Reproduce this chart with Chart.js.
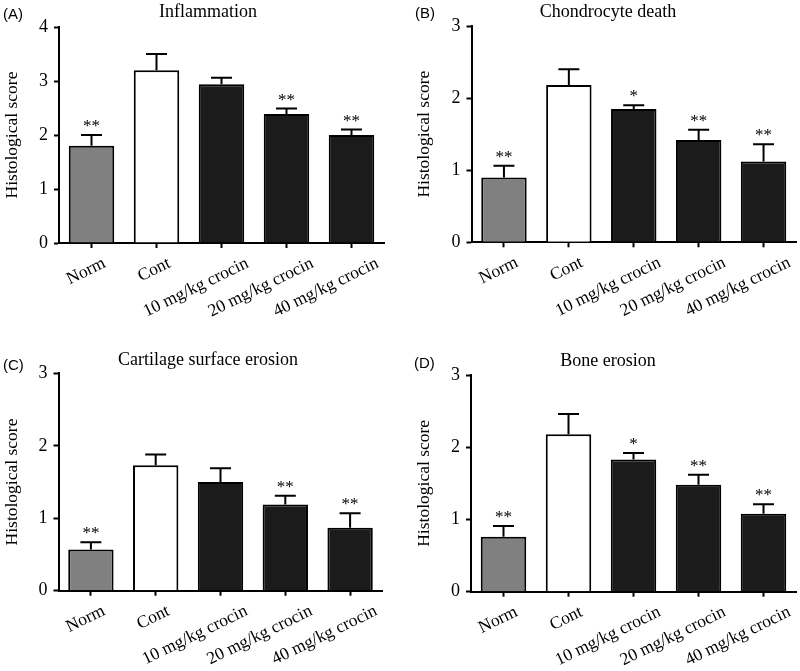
<!DOCTYPE html>
<html><head><meta charset="utf-8">
<script src="https://cdn.jsdelivr.net/npm/chart.js@4.4.1/dist/chart.umd.min.js"></script>
<style>
html,body{margin:0;padding:0;background:#fff;}
#wrap{position:relative;width:800px;height:671px;overflow:hidden;background:#fff;}
canvas{position:absolute;}
</style></head><body>
<div id="wrap">
<canvas id="cA" width="400" height="330" style="left:0;top:0"></canvas>
<canvas id="cB" width="400" height="330" style="left:400px;top:0"></canvas>
<canvas id="cC" width="400" height="341" style="left:0;top:330px"></canvas>
<canvas id="cD" width="400" height="341" style="left:400px;top:330px"></canvas>
</div>
<script>
// ---- data ----
const categories = ['Norm', 'Cont', '10 mg/kg crocin', '20 mg/kg crocin', '40 mg/kg crocin'];
const panelTitles = ['Inflammation', 'Chondrocyte death', 'Cartilage surface erosion', 'Bone erosion'];
const panelLetters = ['(A)', '(B)', '(C)', '(D)'];
const yAxisTitle = 'Histological score';
const yMaxValues = [4, 3, 3, 3];

const inflammationMean = [1.80, 3.20, 2.94, 2.39, 2.00];
const inflammationErr  = [0.20, 0.30, 0.12, 0.10, 0.10];
const inflammationSig  = ['**', '', '', '**', '**'];

const chondrocyteMean = [0.90, 2.18, 1.85, 1.42, 1.12];
const chondrocyteErr  = [0.16, 0.22, 0.05, 0.14, 0.24];
const chondrocyteSig  = ['**', '', '*', '**', '**'];

const cartilageMean = [0.57, 1.73, 1.50, 1.19, 0.87];
const cartilageErr  = [0.10, 0.15, 0.19, 0.12, 0.20];
const cartilageSig  = ['**', '', '', '**', '**'];

const boneMean = [0.76, 2.18, 1.83, 1.48, 1.08];
const boneErr  = [0.15, 0.28, 0.09, 0.14, 0.13];
const boneSig  = ['**', '', '*', '**', '**'];

// ---- styles / layout ----
const barColors = ['#808080', '#ffffff', '#1b1b1b', '#1b1b1b', '#1b1b1b'];
const SERIF = '"Liberation Serif", "Times New Roman", serif';
const SANS = '"Liberation Sans", Arial, sans-serif';
Chart.defaults.color = '#000';
const isShortLabel = (s) => s.length <= 6;

const panels = [
  {id:'cA', mean:inflammationMean, err:inflammationErr, sig:inflammationSig,
   left:59, right:384, top:27, bottom:243, padL:0, titleY:17, letterX:3, letterY:19},
  {id:'cB', mean:chondrocyteMean, err:chondrocyteErr, sig:chondrocyteSig,
   left:71.5, right:396, top:26, bottom:242.3, padL:12, titleY:17, letterX:15, letterY:18},
  {id:'cC', mean:cartilageMean, err:cartilageErr, sig:cartilageSig,
   left:58.5, right:382.5, top:43.3, bottom:260.7, padL:0, titleY:34.5, letterX:3, letterY:40},
  {id:'cD', mean:boneMean, err:boneErr, sig:boneSig,
   left:71, right:396, top:45, bottom:261.7, padL:12, titleY:35.5, letterX:14, letterY:38}
];

const errorBarPlugin = {
  id: 'errorBars',
  afterDatasetsDraw(chart, args, opts) {
    const ctx = chart.ctx;
    const meta = chart.getDatasetMeta(0);
    const ys = chart.scales.y;
    ctx.save();
    ctx.strokeStyle = '#000';
    ctx.lineWidth = 2;
    ctx.fillStyle = '#000';
    ctx.font = '17px ' + SERIF;
    ctx.textAlign = 'center';
    ctx.textBaseline = 'alphabetic';
    meta.data.forEach((bar, i) => {
      const top = ys.getPixelForValue(opts.mean[i]);
      const yE = ys.getPixelForValue(opts.mean[i] + opts.err[i]);
      ctx.beginPath();
      ctx.moveTo(bar.x, top);
      ctx.lineTo(bar.x, yE);
      ctx.moveTo(bar.x - 10.5, yE);
      ctx.lineTo(bar.x + 10.5, yE);
      ctx.stroke();
      if (opts.sig[i]) ctx.fillText(opts.sig[i], bar.x, yE - 4);
    });
    ctx.restore();
  }
};

const panelTextPlugin = {
  id: 'panelText',
  afterDraw(chart, args, opts) {
    const ctx = chart.ctx;
    ctx.save();
    ctx.fillStyle = '#000';
    ctx.textBaseline = 'alphabetic';
    ctx.font = '18px ' + SERIF;
    ctx.textAlign = 'center';
    ctx.fillText(opts.title, 208, opts.titleY);
    ctx.font = '15px ' + SANS;
    ctx.textAlign = 'left';
    ctx.fillText(opts.letter, opts.letterX, opts.letterY);
    ctx.restore();
  }
};

const xTickFont = { family: SERIF, size: 17.5 };

panels.forEach((p, k) => {
  const canvas = document.getElementById(p.id);
  const W = canvas.width, H = canvas.height;
  new Chart(canvas, {
    type: 'bar',
    data: {
      labels: categories,
      datasets: [{
        data: p.mean,
        backgroundColor: barColors,
        borderColor: '#000',
        borderWidth: 2,
        barPercentage: 0.7,
        categoryPercentage: 1.0
      }]
    },
    options: {
      responsive: false,
      animation: false,
      events: [],
      layout: { padding: { left: p.padL, right: W - p.right, top: p.top, bottom: 0 } },
      plugins: {
        legend: { display: false },
        tooltip: { enabled: false },
        title: { display: false },
        errorBars: { mean: p.mean, err: p.err, sig: p.sig },
        panelText: { title: panelTitles[k], letter: panelLetters[k], titleY: p.titleY, letterX: p.letterX, letterY: p.letterY }
      },
      scales: {
        x: {
          type: 'category',
          offset: true,
          grid: { display: true, offset: false, drawOnChartArea: false, drawTicks: true, tickLength: 5, tickWidth: 2, tickColor: '#000' },
          border: { display: true, color: '#000', width: 2 },
          ticks: { font: xTickFont, color: '#000', minRotation: 26, maxRotation: 26, padding: 5, labelOffset: 13, autoSkip: false,
                   callback: (v, i) => isShortLabel(categories[i]) ? categories[i] : '' },
          afterFit(scale) { scale.height = H - p.bottom; }
        },
        x2: {
          type: 'category',
          offset: true,
          position: { y: 0 },
          grid: { display: false, drawTicks: false, drawOnChartArea: false },
          border: { display: false },
          ticks: { font: xTickFont, color: '#000', minRotation: 26, maxRotation: 26, padding: 10, labelOffset: 26, autoSkip: false,
                   callback: (v, i) => isShortLabel(categories[i]) ? '' : categories[i] }
        },
        y: {
          min: 0, max: yMaxValues[k],
          grid: { display: true, drawOnChartArea: false, drawTicks: true, tickLength: 5, tickWidth: 2, tickColor: '#000' },
          border: { display: true, color: '#000', width: 2 },
          ticks: { stepSize: 1, font: { family: SERIF, size: 18 }, color: '#000', padding: 6 },
          title: { display: true, text: yAxisTitle, font: { family: SERIF, size: 17.5 }, color: '#000', padding: { top: 2, bottom: 0 } },
          afterFit(scale) { scale.width = p.left - p.padL; }
        }
      }
    },
    plugins: [errorBarPlugin, panelTextPlugin]
  });
});
</script>
</body></html>
